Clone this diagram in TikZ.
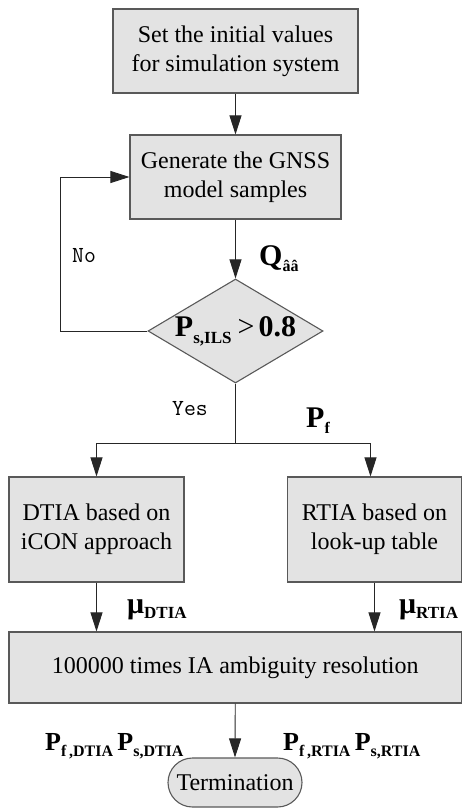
\documentclass[tikz,border=0pt]{standalone}
\usepackage{fontspec}
\setmainfont{Liberation Serif}
\usetikzlibrary{arrows.meta,shapes.geometric,shapes.misc}
\newcommand\bsubA[1]{\raisebox{-7pt}{\fontsize{17}{17}\selectfont\bfseries #1}}
\newcommand\bsubQ[1]{\raisebox{-6pt}{\fontsize{16}{16}\selectfont\bfseries #1}}
\newcommand\bsubM[1]{\raisebox{-5pt}{\fontsize{17}{17}\selectfont\bfseries #1}}
\newcommand\bsubB[1]{\raisebox{-6pt}{\fontsize{16}{16}\selectfont\bfseries #1}}
\begin{document}
\begin{tikzpicture}[x=1pt,y=-1pt,
  box/.style={draw=black!65,fill=black!11,line width=1.1pt,align=center,inner sep=0pt,
    font=\fontsize{24}{29}\selectfont},
  arr/.style={draw=black!85,line width=0.9pt,-{Triangle[length=19pt,width=12pt]}},
  ln/.style={draw=black!85,line width=0.9pt},
  lbl/.style={inner sep=0pt,font=\fontsize{30}{32}\selectfont\bfseries},
  lblmu/.style={inner sep=0pt,font=\fontsize{30}{32}\selectfont\bfseries},
  lblsm/.style={inner sep=0pt,font=\fontsize{26}{28}\selectfont\bfseries},
  yn/.style={inner sep=0pt,font=\fontsize{23}{26}\selectfont\ttfamily}]
\useasboundingbox (0,0) rectangle (462,808);
\node[box,minimum width=245pt,minimum height=84pt] (b1) at (235.5,51) {Set the initial values\\for simulation system};
\node[box,minimum width=211pt,minimum height=84pt] (b2) at (235.5,177) {Generate the GNSS\\model samples};
\node[box,shape=diamond,aspect=1.68,minimum width=175pt,minimum height=104pt,
  font=\fontsize{30}{32}\selectfont\bfseries] (d) at (235.5,331) {P\bsubA{s,ILS}\hspace{6pt}{\mdseries >}\hspace{4pt}0.8};
\node[box,minimum width=175pt,minimum height=105pt] (b3) at (96.5,529.5) {DTIA based on\\iCON approach};
\node[box,minimum width=174.5pt,minimum height=105pt] (b4) at (374.5,529.5) {RTIA based on\\look-up table};
\node[box,minimum width=452.5pt,minimum height=71pt] (b5) at (235.25,667.5) {100000 times IA ambiguity resolution};
\node[box,shape=rounded rectangle,minimum width=134pt,minimum height=49pt] (t) at (235,782.5) {Termination};

\coordinate (lp) at (60,331);
\coordinate (sp) at (235.5,443);

\draw[arr] (b1.south) -- (b2.north);
\draw[arr] (b2.south) -- (d.north);
\draw[arr] (d.west) -- (lp) |- (b2.west);
\draw[ln] (d.south) -- (sp);
\draw[arr] (sp) -| (b3.north);
\draw[arr] (sp) -| ([xshift=-4pt]b4.north);
\draw[arr] (b3.south) -- (b3.south |- b5.north);
\draw[arr] (b4.south) -- (b4.south |- b5.north);
\draw[arr] (b5.south) -- (t.north);

\node[yn,anchor=base west] (no) at (72,262) {No};
\node[yn,anchor=base west] (yes) at (172,415) {Yes};
\node[lbl,anchor=base west] (q) at (259,265) {Q\bsubQ{\^{a}\^{a}}};
\node[lbl,anchor=base west] (pf) at (306,427) {P\bsubQ{f}};
\node[lblmu,anchor=base west] (mud) at (127,613) {μ\bsubM{DTIA}};
\node[lblmu,anchor=base west] (mur) at (399,613) {μ\bsubM{RTIA}};
\node[lblsm,anchor=base west] (pd) at (45,750) {P\bsubB{f\,,DTIA}\,P\bsubB{s,DTIA}};
\node[lblsm,anchor=base west] (pr) at (283,750) {P\bsubB{f\,,RTIA}\,P\bsubB{s,RTIA}};
\end{tikzpicture}
\end{document}
